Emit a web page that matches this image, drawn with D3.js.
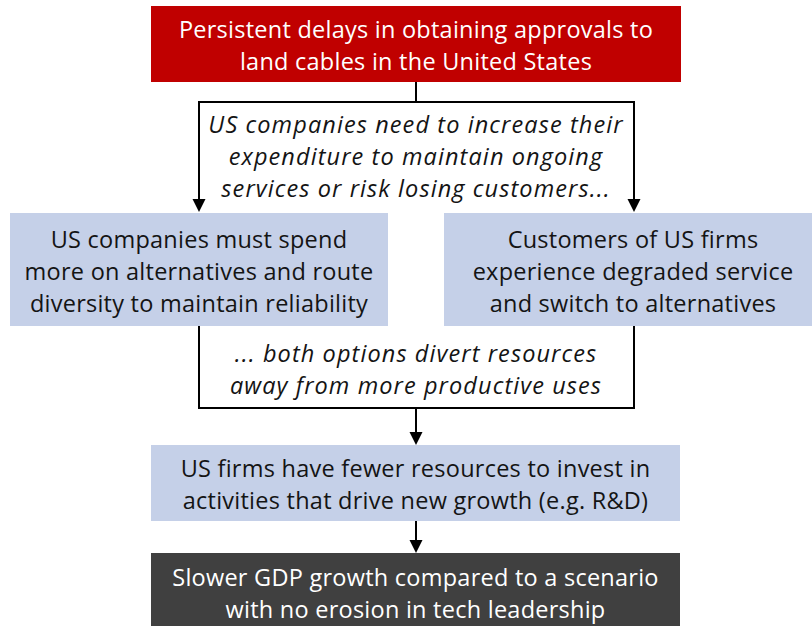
<!DOCTYPE html>
<html>
<head>
<meta charset="utf-8">
<script src="https://cdn.jsdelivr.net/npm/d3@7"></script>
<style>
  body { margin: 0; background: #fff; }
  svg { display: block; }
</style>
</head>
<body>
<svg id="flow"></svg>
<script>
const boxTexts = [
    ["Persistent delays in obtaining approvals to", "land cables in the United States"],
    ["US companies must spend", "more on alternatives and route", "diversity to maintain reliability"],
    ["Customers of US firms", "experience degraded service", "and switch to alternatives"],
    ["US firms have fewer resources to invest in", "activities that drive new growth (e.g. R&D)"],
    ["Slower GDP growth compared to a scenario", "with no erosion in tech leadership"]
];
const boxKinds = ["red", "blue", "blue", "blue", "dark"];
const linkTexts = [
    ["US companies need to increase their", "expenditure to maintain ongoing", "services or risk losing customers..."],
    ["... both options divert resources", "away from more productive uses"]
];

const width = 812, height = 626;
const svg = d3.select("#flow").attr("width", width).attr("height", height);

const fills = { red: "#C00000", blue: "#C5D0E8", dark: "#404040" };
const textColor = { red: "#fff", blue: "#141414", dark: "#fff" };

// box geometry (layout only); right and bottom boxes run past the frame
const boxes = [
    { x0: 151, x1: 681, y0: 6, y1: 82 },
    { x0: 10, x1: 388, y0: 213, y1: 326 },
    { x0: 444, x1: 822, y0: 213, y1: 326 },
    { x0: 151, x1: 680, y0: 445, y1: 521 },
    { x0: 151, x1: 680, y0: 553, y1: 630 }
];
const lineH = 31.8;
const font = "'Open Sans', sans-serif";
const fontSize = 23.5;

boxes.forEach((b, i) => {
    const g = svg.append("g");
    g.append("rect")
        .attr("x", b.x0).attr("y", b.y0)
        .attr("width", b.x1 - b.x0).attr("height", b.y1 - b.y0)
        .attr("fill", fills[boxKinds[i]]);
    const lines = boxTexts[i];
    const cx = (b.x0 + b.x1) / 2;
    const cy = (b.y0 + b.y1) / 2 + 2;
    g.selectAll("text").data(lines).join("text")
        .attr("x", cx)
        .attr("y", (d, k) => cy + (k - (lines.length - 1) / 2) * lineH)
        .attr("dy", "0.35em")
        .attr("text-anchor", "middle")
        .attr("font-family", font)
        .attr("font-size", fontSize)
        .attr("letter-spacing", 0.25)
        .attr("fill", textColor[boxKinds[i]])
        .text(d => d);
});

// connectors
const ink = "#000";
const arrow = (x, yTip) => {
    svg.append("path")
        .attr("d", d3.line()([[x - 6.5, yTip - 13], [x + 6.5, yTip - 13], [x, yTip]]) + "Z")
        .attr("fill", ink);
};
const stroke = pts => svg.append("path")
    .attr("d", d3.line()(pts))
    .attr("fill", "none").attr("stroke", ink).attr("stroke-width", 2);

const leftX = 199, rightX = 634, midX = 416;

// top split
stroke([[midX, 82], [midX, 102]]);
stroke([[leftX, 200], [leftX, 102], [rightX, 102], [rightX, 200]]);
arrow(leftX, 212);
arrow(rightX, 212);

// merge
stroke([[leftX, 326], [leftX, 408], [rightX, 408], [rightX, 326]]);
stroke([[midX, 408], [midX, 433]]);
arrow(midX, 445);

// to GDP box
stroke([[midX, 521], [midX, 541]]);
arrow(midX, 553);

// italic link labels
const linkCenters = [157, 370];
linkTexts.forEach((lines, i) => {
    svg.append("g").selectAll("text").data(lines).join("text")
        .attr("x", midX)
        .attr("y", (d, k) => linkCenters[i] + (k - (lines.length - 1) / 2) * lineH)
        .attr("dy", "0.35em")
        .attr("text-anchor", "middle")
        .attr("font-family", font)
        .attr("font-style", "italic")
        .attr("font-size", fontSize)
        .attr("letter-spacing", 1.1)
        .attr("fill", "#141414")
        .text(d => d);
});
</script>
</body>
</html>
